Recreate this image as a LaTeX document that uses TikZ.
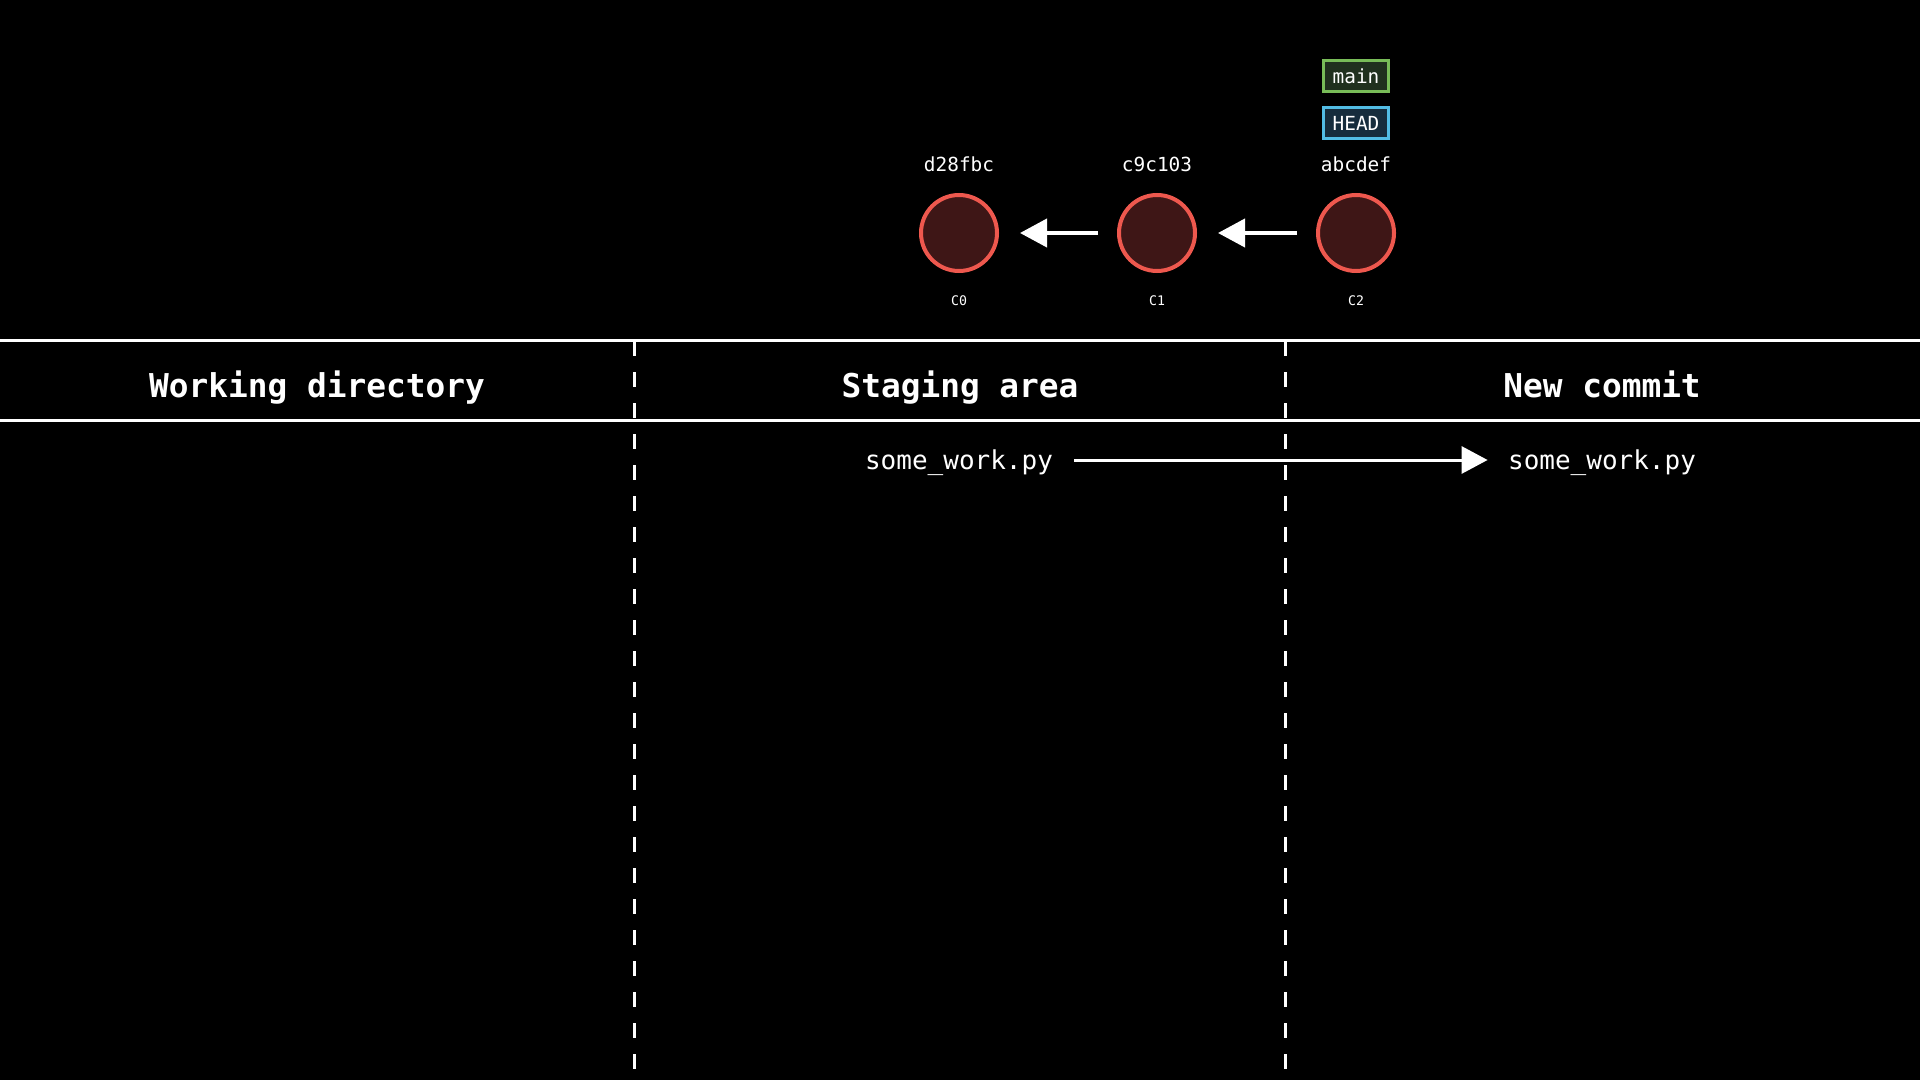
\documentclass[tikz,border=0pt]{standalone}
\usepackage{fontspec}
\setmonofont{DejaVu Sans Mono}
\usepackage{color}
\definecolor{mycommitfill}{RGB}{62,22,22}
\definecolor{mycommitline}{RGB}{238,88,78}
\definecolor{mygreenfill}{RGB}{32,48,30}
\definecolor{mygreenline}{RGB}{120,188,88}
\definecolor{mybluefill}{RGB}{22,44,60}
\definecolor{myblueline}{RGB}{82,188,228}
\usepackage{tikz}
\usetikzlibrary{arrows.meta,positioning}
\tikzstyle{commit}=[draw=mycommitline,fill=mycommitfill,circle,line width=2pt,minimum size=38pt,inner sep=0pt]
\tikzstyle{hash}=[text=white,inner sep=0pt,font=\ttfamily\fontsize{9.7}{11}\selectfont]
\tikzstyle{tag}=[text=white,inner sep=0pt,font=\ttfamily\fontsize{6.6}{8}\selectfont]
\tikzstyle{branch}=[line width=1.5pt,minimum width=32.5pt,minimum height=15.5pt,inner sep=0pt,text=white,font=\ttfamily\fontsize{9.7}{11}\selectfont]
\tikzstyle{header}=[text=white,inner sep=0pt,text height=12pt,text depth=0pt,font=\ttfamily\bfseries\fontsize{16.4}{19}\selectfont]
\tikzstyle{file}=[text=white,inner sep=0pt,text depth=0pt,font=\ttfamily\fontsize{13}{15}\selectfont]

\begin{document}
\begin{tikzpicture}[x=0.5pt,y=-0.5pt,line width=1.5pt]
\fill[black] (0,0) rectangle (1920,1080);
\useasboundingbox (0,0) rectangle (1920,1080);

% commits
\node [commit] (c0) at (959,233) {};
\node [commit] (c1) at (1157,233) {};
\node [commit] (c2) at (1356,233) {};
\node [hash] [above=10pt of c0] (h0) {d28fbc};
\node [hash] [above=10pt of c1] (h1) {c9c103};
\node [hash] [above=10pt of c2] (h2) {abcdef};
\node [tag] [below=10.5pt of c0] (t0) {C0};
\node [tag] [below=10.5pt of c1] (t1) {C1};
\node [tag] [below=10.5pt of c2] (t2) {C2};
\node [branch, draw=myblueline, fill=mybluefill] [above=7.5pt of h2] (head) {HEAD};
\node [branch, draw=mygreenline, fill=mygreenfill] [above=6.5pt of head] (main) {main};
\draw [white, line width=2pt, -{Triangle[length=13.5pt,width=14pt]}, shorten >=10.5pt, shorten <=9.5pt] (c1) -- (c0);
\draw [white, line width=2pt, -{Triangle[length=13.5pt,width=14pt]}, shorten >=10.5pt, shorten <=9.5pt] (c2) -- (c1);

% table
\coordinate (top l) at (0,341);
\coordinate (top r) at (1920,341);
\coordinate (mid l) at (0,420);
\coordinate (mid r) at (1920,420);
\draw [white] (top l) -- (top r);
\draw [white] (mid l) -- (mid r);
\coordinate (d1 top) at (634,341);
\coordinate (d1 bot) at (634,1080);
\coordinate (d2 top) at (1285,341);
\coordinate (d2 bot) at (1285,1080);
\draw [white, dash pattern=on 7.5pt off 8pt] (d1 top) -- (d1 bot);
\draw [white, dash pattern=on 7.5pt off 8pt] (d2 top) -- (d2 bot);
\node [header] (wd) at (317,385) {Working directory};
\node [header] (sa) at (960,385) {Staging area};
\node [header] (nc) at (1602,385) {New commit};

% files
\node [file] (f1) at (959,460) {some\_work.py};
\node [file] (f2) at (1602,460) {some\_work.py};
\draw [white, -{Triangle[length=13pt,width=13.5pt]}, shorten >=9.5pt, shorten <=10pt] (f1) -- (f2);
\end{tikzpicture}
\end{document}
